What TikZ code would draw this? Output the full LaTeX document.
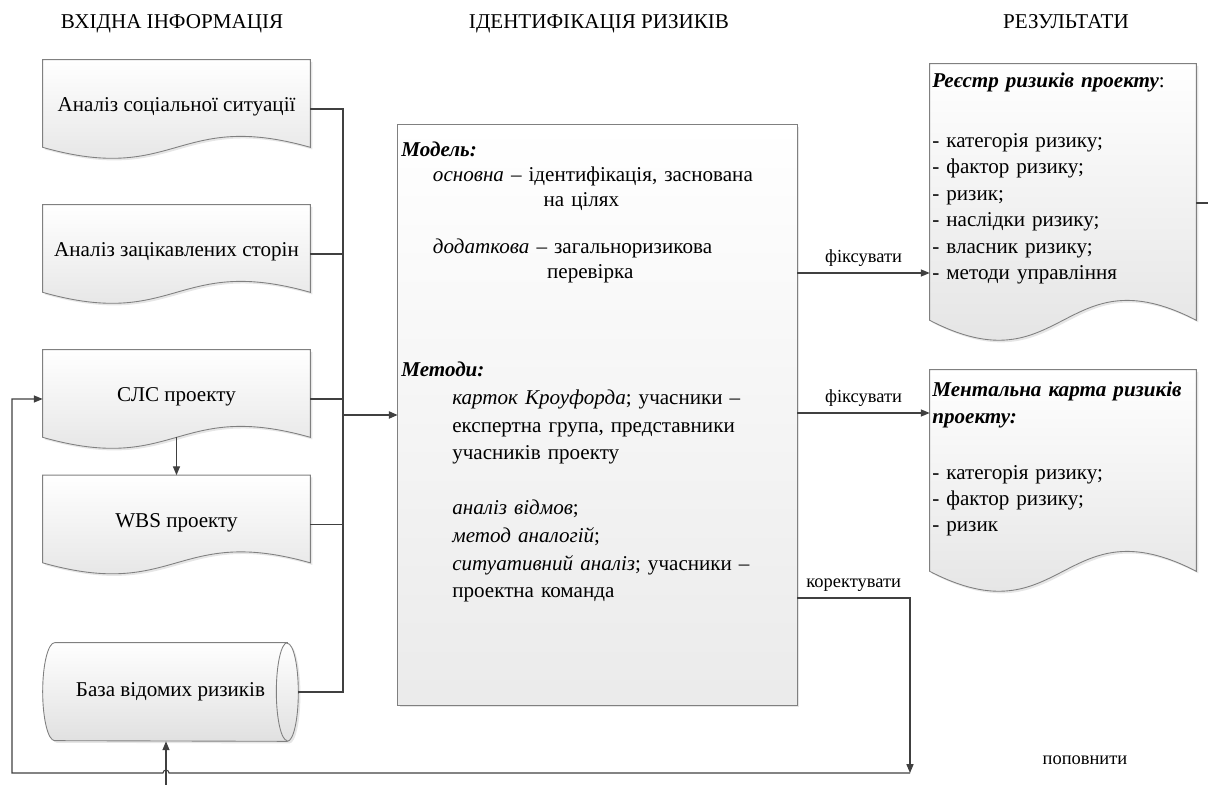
\documentclass[tikz,border=0pt]{standalone}
\usepackage{fontspec}
\setmainfont{Liberation Serif}
\usetikzlibrary{arrows.meta,calc,shadows,backgrounds}

\begin{document}
\begin{tikzpicture}[x=0.02cm,y=0.02cm,font=\fontsize{12}{14}\selectfont,
	docline/.style={draw=black!50,line width=0.5pt},
	docfill/.style={docline,top color=white,bottom color=black!12,
		drop shadow={shadow xshift=1.2pt,shadow yshift=-1.2pt,opacity=0.2}},
	docbox/.style={minimum width=5.34cm,minimum height=1.96cm,inner sep=0pt},
	resbox/.style={minimum width=5.32cm,inner sep=0pt},
	txt/.style={anchor=base west,inner sep=0pt,text width=9cm,align=left},
	line/.style={draw=black!75,line width=0.6pt},
	arr/.style={line,-{Triangle[length=5pt,width=4pt]}},
	lbl/.style={font=\fontsize{10.5}{12}\selectfont},
	head/.style={anchor=base}]
	\def\docframe#1#2#3{\path[docfill] (#1.north west) -- (#1.north east) -- ($(#1.south east)+(0,#2)$)
		.. controls ($(#1.south)+(0,#2+#3)$) and ($(#1.south)+(0,#2-#3)$) .. ($(#1.south west)+(0,#2)$) -- cycle;}
	\useasboundingbox (0,0) rectangle (1208,785);
	% headers
	\node[head] (inhead) at (172,756) {ВХІДНА ІНФОРМАЦІЯ};
	\node[head] (idhead) at (599,756) {ІДЕНТИФІКАЦІЯ РИЗИКІВ};
	\node[head] (reshead) at (1066,756) {РЕЗУЛЬТАТИ};
	% input
	\node[docbox] (soc) at (176.5,676) {\raisebox{5pt}{Аналіз соціальної ситуації}};
	\node[docbox] (stake) at (176.5,531) {\raisebox{5pt}{Аналіз зацікавлених сторін}};
	\node[docbox] (slc) at (176.5,386) {\raisebox{5pt}{СЛС проекту}};
	\node[docbox] (wbs) at (176.5,260.5) {\raisebox{5pt}{WBS проекту}};
	\node[minimum width=5.1cm,minimum height=1.96cm,inner sep=0pt] (base) at (170.5,93) {База відомих ризиків};
	% identification
	\node[minimum width=7.98cm,minimum height=11.6cm,inner sep=0pt] (idbox) at (597.5,370) {};
	\node[txt,font=\fontsize{12}{14.2}\selectfont] (model) at (401,628) {\textbf{\textit{Модель:}}\\
		\hspace*{18pt}\textit{основна} – ідентифікація, заснована\\
		\hspace*{81pt}на цілях\\[12.5pt]
		\hspace*{18pt}\textit{додаткова} – загальноризикова\\
		\hspace*{83pt}перевірка};
	\node[txt,font=\fontsize{12}{15.7}\selectfont] (methods) at (401,408) {\textbf{\textit{Методи:}}\\
		\hspace*{29pt}\textit{карток Кроуфорда}; учасники –\\
		\hspace*{29pt}експертна група, представники\\
		\hspace*{29pt}учасників проекту\\[15.7pt]
		\hspace*{29pt}\textit{аналіз відмов};\\
		\hspace*{29pt}\textit{метод аналогій};\\
		\hspace*{29pt}\textit{ситуативний аналіз}; учасники –\\
		\hspace*{29pt}проектна команда};
	% results
	\node[resbox,minimum height=5.56cm] (reg) at (1063,582) {};
	\node[resbox,minimum height=4.46cm] (mmap) at (1063,303.5) {};
	\node[txt,font=\fontsize{12}{15.1}\selectfont] (regtext) at (932,697) {\textbf{\textit{Реєстр ризиків проекту}}:\\[18.5pt]
		- категорія ризику;\\- фактор ризику;\\- ризик;\\- наслідки ризику;\\- власник ризику;\\- методи управління};
	\node[txt,font=\fontsize{12}{14.9}\selectfont] (mmaptext) at (932,388) {\textbf{\textit{Ментальна карта ризиків}}\\
		\textbf{\textit{проекту:}}\\[17pt]
		- категорія ризику;\\- фактор ризику;\\- ризик};
	\node[lbl] (replenish) at (1085,25) {поповнити};
	\begin{scope}[on background layer]
		\docframe{soc}{11}{38}
		\docframe{stake}{11}{38}
		\docframe{slc}{11}{38}
		\docframe{wbs}{11}{38}
		\docframe{reg}{22}{69}
		\docframe{mmap}{22}{69}
		\path[docfill,bottom color=black!8] (idbox.north west) rectangle (idbox.south east);
		\path[docfill] ($(base.north east)+(-11,0)$) -- ($(base.north west)+(12,0)$)
			arc[start angle=90,end angle=270,x radius=12,y radius=49]
			-- ($(base.south east)+(-11,0)$) arc[start angle=-90,end angle=90,x radius=11,y radius=49] -- cycle;
		\draw[docline] ($(base.north east)+(-11,0)$) arc[start angle=90,end angle=270,x radius=11,y radius=49];
	\end{scope}
	% connectors
	\coordinate (bus) at (343,0);
	\coordinate (inlet) at (166,0);
	\coordinate (loop) at (910,12);
	\coordinate (exit) at (1208,0);
	\draw[line] (soc.east) -- (soc.east -| bus) -- (base.east -| bus) -- (base.east);
	\draw[line] (stake.east) -- (stake.east -| bus);
	\draw[line] (slc.east) -- (slc.east -| bus);
	\draw[line] (wbs.east) -- (wbs.east -| bus);
	\draw[arr,line width=1.1pt] (idbox.west -| bus) -- (idbox.west);
	\draw[arr] ([yshift=0.22cm]slc.south) -- (wbs.north);
	\draw[arr] (idbox.east |- 0,512) -- node[lbl,above] (fix1) {фіксувати} (reg.west |- 0,512);
	\draw[arr] (idbox.east |- 0,372) -- node[lbl,above] (fix2) {фіксувати} (mmap.west |- 0,372);
	\draw[line] (reg.east) -- (exit |- reg.east);
	\draw[arr] (idbox.east |- 0,187) -- node[lbl,above] (corr) {коректувати} (loop |- 0,187) -- (loop);
	\draw[arr] (loop) -- ($(loop -| inlet)+(3,0)$) arc[start angle=0,end angle=180,radius=3] -- (12,12) |- (slc.west);
	\draw[arr] (inlet) -- (inlet |- base.south);
\end{tikzpicture}
\end{document}
